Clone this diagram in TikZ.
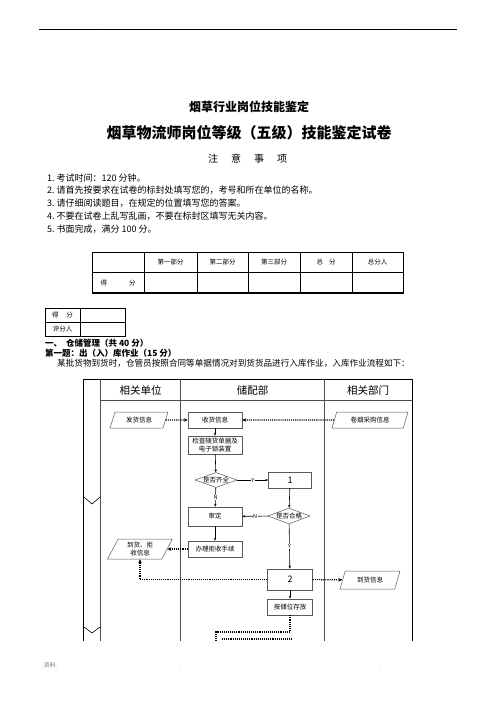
\documentclass[tikz,border=0pt]{standalone}
\usepackage{fontspec}
\setmainfont{Noto Sans CJK SC}
\usetikzlibrary{shapes.geometric,arrows.meta}
\begin{document}
\begin{tikzpicture}[x=1pt,y=-1pt,
  txt/.style={inner sep=0pt, anchor=west},
  frame/.style={line width=0.8pt, draw=black},
  lane/.style={line width=0.5pt, draw=gray!60!black},
  box/.style={draw=gray!70!black, line width=0.5pt, rectangle, inner sep=1pt, align=center, font=\fontsize{6.5}{8}\selectfont},
  para/.style={trapezium, trapezium left angle=66, trapezium right angle=114, trapezium stretches=true, draw=gray!70!black, line width=0.5pt, inner sep=0pt, align=center, font=\fontsize{6.5}{8}\selectfont},
  dec/.style={diamond, draw=gray!70!black, line width=0.5pt, inner sep=0pt, minimum width=42pt, minimum height=15pt, label={[font=\fontsize{6.5}{8}\selectfont]center:#1}},
  arr/.style={draw=black, line width=0.6pt, -{Stealth[length=3pt,width=2.4pt]}},
  darr/.style={draw=black, line width=1.1pt, densely dotted, -{Stealth[length=4pt,width=3.5pt]}},
  dline/.style={draw=black, line width=1.1pt, densely dotted},
  lbl/.style={fill=white, inner sep=0.6pt, font=\fontsize{5.5}{6}\selectfont},
  tcell/.style={font=\fontsize{6.5}{7}\selectfont, inner sep=0pt},
  pmark/.style={font=\fontsize{4}{4}\selectfont, text=gray, inner sep=0pt},
  tline/.style={line width=0.9pt, draw=black},
]
\useasboundingbox (0,0) rectangle (496,702);
\fill[white] (0,0) rectangle (496,702);

% page header
\draw[line width=0.9pt] (39,29) -- (457,29);
\node[pmark] (hm1) at (100,25) {. .};
\node[pmark] (hm2) at (400,25) {..};

% titles
\node[font=\bfseries\fontsize{12}{12}\selectfont, inner sep=0pt] (t1) at (249,107) {烟草行业岗位技能鉴定};
\node[font=\bfseries\fontsize{15}{15}\selectfont, inner sep=0pt] (t2) at (249,133) {烟草物流师岗位等级（五级）技能鉴定试卷};
\node[font=\fontsize{10}{10}\selectfont, inner sep=0pt] (t3) at (247.5,159) {注\hspace{13pt}意\hspace{13pt}事\hspace{13pt}项};

% instructions
\begin{scope}[font=\fontsize{9}{9}\selectfont]
\node[txt] (i1) at (47,178) {1.\ 考试时间：120 分钟。};
\node[txt] (i2) at (47,190) {2.\ 请首先按要求在试卷的标封处填写您的，考号和所在单位的名称。};
\node[txt] (i3) at (47,203) {3.\ 请仔细阅读题目，在规定的位置填写您的答案。};
\node[txt] (i4) at (47,216) {4.\ 不要在试卷上乱写乱画，不要在标封区填写无关内容。};
\node[txt] (i5) at (47,229) {5.\ 书面完成，满分 100 分。};
\end{scope}

% score table
\draw[tline] (92,252) rectangle (403,293);
\draw[line width=1.8pt] (92,293) -- (403,293);
\draw[tline] (92,272) -- (403,272);
\foreach \xx in {144,197,248,300,352} \draw[tline] (\xx,252) -- (\xx,293);
\node[tcell] (h1) at (170.5,262) {第一部分};
\node[tcell] (h2) at (222.5,262) {第二部分};
\node[tcell] (h3) at (274,262) {第三部分};
\node[tcell] (h4) at (326,262) {总\hspace{6pt}分};
\node[tcell] (h5) at (377.5,262) {总分人};
\node[tcell] (h6) at (118,283) {得\hspace{22pt}分};

% small table
\draw[tline] (45,308) rectangle (125,336);
\draw[tline] (45,322) -- (125,322);
\draw[tline] (80,308) -- (80,336);
\node[tcell] (s1) at (62.5,315) {得\hspace{8pt}分};
\node[tcell] (s2) at (62.5,329) {评分人};

% section text
\node[txt, font=\bfseries\fontsize{8.5}{8.5}\selectfont] (sec) at (45,343) {一、\ \ 仓储管理（共 40 分）};
\node[txt, font=\bfseries\fontsize{8.5}{8.5}\selectfont] (q1) at (45,353) {第一题：出（入）库作业（15 分）};
\node[txt, font=\fontsize{8.6}{8.6}\selectfont] (desc) at (57,363.5) {某批货物到货时，仓管员按照合同等单据情况对到货货品进行入库作业，入库作业流程如下：};

% flowchart frame
\draw[frame] (83,379) -- (412,379);
\draw[frame] (83,379) -- (83,641);
\draw[frame] (412,379) -- (412,641);
\draw[lane] (100.7,379) -- (100.7,641);
\draw[lane] (180.7,379) -- (180.7,641);
\draw[lane] (324,379) -- (324,641);
\draw[lane] (100.7,400) -- (412,400);
\draw[line width=0.6pt] (84,497) -- (92,504) -- (100,497);
\draw[line width=0.6pt] (84,627) -- (92,633) -- (100,627);

\node[font=\fontsize{10.5}{10.5}\selectfont, inner sep=0pt] (l1) at (140.5,390) {相关单位};
\node[font=\fontsize{10.5}{10.5}\selectfont, inner sep=0pt] (l2) at (252.5,390) {储配部};
\node[font=\fontsize{10.5}{10.5}\selectfont, inner sep=0pt] (l3) at (368,390) {相关部门};

% flowchart nodes
\node[para, minimum width=58pt, minimum height=16pt] (p1) at (139,420) {发货信息};
\node[box, minimum width=54pt, minimum height=16pt] (sh) at (215,420) {收货信息};
\node[para, minimum width=76pt, minimum height=16pt] (p2) at (370,420) {卷烟采购信息};
\node[box, minimum width=54pt, minimum height=18pt, font=\fontsize{6.5}{7.5}\selectfont, inner sep=0pt] (jc) at (215,445) {检查随货单据及\\电子锁装置};
\node[dec=是否齐全] (d1) at (216,480) {};
\node[box, minimum width=43pt, minimum height=16pt, font=\fontsize{9}{9}\selectfont] (b1) at (290,480) {1};
\node[box, minimum width=54pt, minimum height=19pt] (sd) at (215,516.5) {审定};
\node[dec=是否合格, minimum height=16pt] (d2) at (289,516) {};
\node[box, minimum width=54pt, minimum height=16pt] (bj) at (215,549) {办理拒收手续};
\node[para, minimum width=65pt, minimum height=20pt, font=\fontsize{6.5}{8}\selectfont] (p3) at (140,549) {到货、拒\\收信息};
\node[box, minimum width=45pt, minimum height=21pt, font=\fontsize{9}{9}\selectfont] (b2) at (290,579.5) {2};
\node[para, minimum width=60pt, minimum height=18pt] (p4) at (370,580) {到货信息};
\node[box, minimum width=45pt, minimum height=16pt] (bs) at (290,607) {按储位存放};

% connectors
\draw[darr] (p1) -- (sh);
\draw[darr] (p2) -- (sh);
\draw[arr] (sh) -- (jc);
\draw[arr] (jc) -- (d1);
\draw[arr] (d1) -- node[lbl] {Y} (b1);
\draw[arr] (d1) -- node[lbl] {N} (sd);
\draw[arr] (b1) -- (d2);
\draw[arr] (d2) -- node[lbl] {N} (sd);
\draw[arr] (d2) -- node[lbl] {Y} (b2);
\draw[arr] (sd) -- (bj);
\draw[darr] (bj) -- (p3);
\draw[darr] (b2.west) -| (p3.south);
\draw[darr] (b2) -- (p4);
\draw[arr] (b2) -- (bs);

\coordinate (k1) at (290,632);
\coordinate (k2) at (216,632);
\coordinate (k3) at (216,641);
\coordinate (k4) at (222,639);
\coordinate (k5) at (292,639);
\draw[dline] (bs.south) -- (k1) -- (k2) -- (k3);
\draw[dline] (k4) -- (k5);

% footer
\node[pmark, font=\fontsize{6}{6}\selectfont] (f1) at (50,665) {.资料.};
\node[pmark, font=\fontsize{6}{6}\selectfont] (f2) at (180,666) {.};
\node[pmark, font=\fontsize{6}{6}\selectfont] (f3) at (380,666) {.};
\end{tikzpicture}
\end{document}
